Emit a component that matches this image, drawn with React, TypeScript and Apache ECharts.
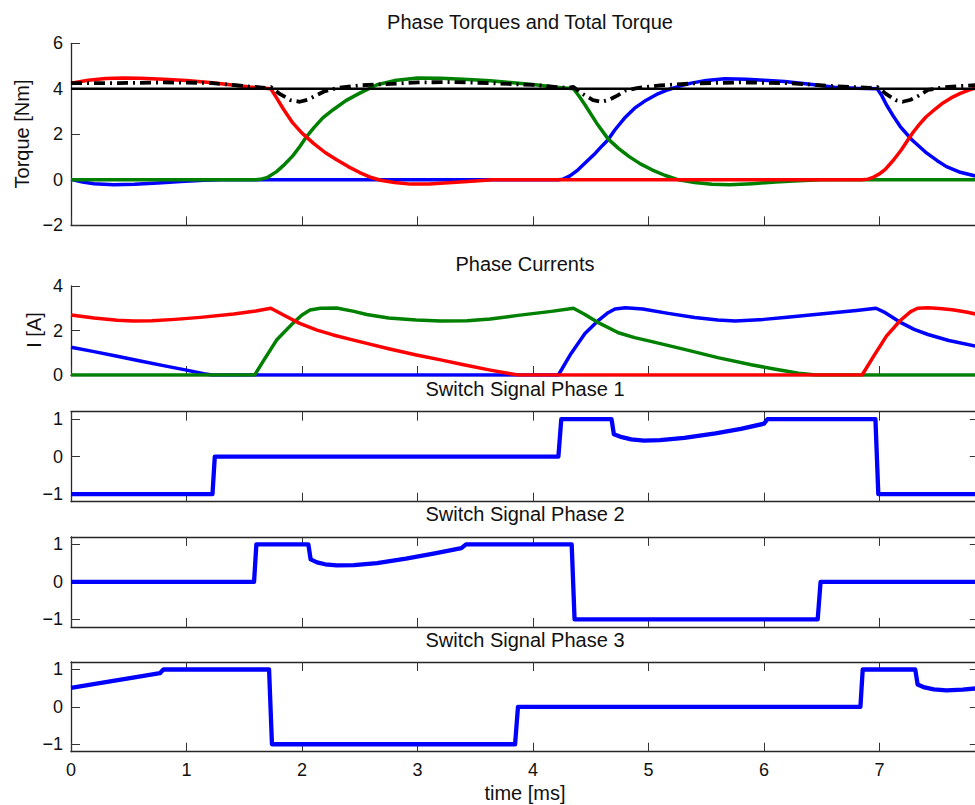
import React, { useEffect, useRef } from "react";
import * as echarts from "echarts";

// Time axis span (ms) — one electrical period
const T_MAX = 7.86;
const X_TICKS = [0, 1, 2, 3, 4, 5, 6, 7];

// ---- Phase torques [Nm] as [time ms, value] ----
const torquePhase1: [number, number][] = [
  [0, 4.25], [0.15, 4.38], [0.3, 4.45], [0.45, 4.47], [0.6, 4.46], [0.8, 4.42], [1.0, 4.36],
  [1.2, 4.28], [1.4, 4.17], [1.55, 4.08], [1.68, 4.02], [1.73, 4.0], [1.78, 3.6], [1.84, 3.1],
  [1.92, 2.5], [2.0, 2.05], [2.1, 1.6], [2.2, 1.2], [2.3, 0.88], [2.4, 0.58], [2.5, 0.32],
  [2.6, 0.1], [2.68, -0.02], [2.8, -0.12], [2.94, -0.19], [3.1, -0.18], [3.3, -0.12],
  [3.5, -0.05], [3.65, 0], [6.85, 0], [6.9, 0.03], [6.95, 0.12], [7.0, 0.26], [7.05, 0.46],
  [7.12, 0.86], [7.19, 1.32], [7.25, 1.78], [7.29, 2.08], [7.34, 2.4], [7.4, 2.75],
  [7.48, 3.1], [7.55, 3.38], [7.62, 3.6], [7.7, 3.8], [7.78, 3.95], [7.86, 4.08],
];
const torquePhase2: [number, number][] = [
  [0, 0], [1.6, 0], [1.64, 0.02], [1.7, 0.1], [1.78, 0.36], [1.85, 0.68], [1.92, 1.05],
  [1.98, 1.45], [2.04, 1.9], [2.1, 2.27], [2.18, 2.72], [2.27, 3.08], [2.38, 3.48],
  [2.5, 3.81], [2.65, 4.18], [2.8, 4.36], [3.0, 4.47], [3.2, 4.46], [3.4, 4.42], [3.63, 4.35],
  [3.85, 4.26], [4.02, 4.18], [4.2, 4.07], [4.35, 4.0], [4.4, 3.67], [4.45, 3.3], [4.55, 2.5],
  [4.65, 1.8], [4.74, 1.38], [4.83, 1.03], [4.93, 0.7], [5.03, 0.44], [5.14, 0.2], [5.26, 0.0],
  [5.4, -0.12], [5.55, -0.2], [5.7, -0.22], [5.9, -0.17], [6.1, -0.1], [6.3, -0.04],
  [6.5, 0], [7.86, 0],
];
const torquePhase3: [number, number][] = [
  [0, 0.02], [0.1, -0.1], [0.2, -0.17], [0.37, -0.22], [0.55, -0.2], [0.75, -0.14],
  [0.95, -0.07], [1.15, -0.02], [1.3, 0], [4.22, 0], [4.26, 0.03], [4.32, 0.17], [4.39, 0.44],
  [4.46, 0.78], [4.54, 1.17], [4.6, 1.5], [4.65, 1.76], [4.71, 2.2], [4.8, 2.75], [4.88, 3.15],
  [4.98, 3.5], [5.07, 3.75], [5.17, 3.96], [5.27, 4.12], [5.37, 4.25], [5.5, 4.37],
  [5.66, 4.44], [5.85, 4.42], [6.0, 4.38], [6.18, 4.32], [6.4, 4.2], [6.61, 4.07],
  [6.8, 4.02], [6.98, 4.0], [7.02, 3.7], [7.06, 3.3], [7.12, 2.8], [7.18, 2.34], [7.28, 1.76],
  [7.41, 1.17], [7.5, 0.84], [7.58, 0.58], [7.7, 0.33], [7.86, 0.13],
];
// Sum of the three phase torques
const torqueTotal: [number, number][] = [
  [0, 4.25], [0.4, 4.25], [0.8, 4.28], [1.2, 4.26], [1.5, 4.12], [1.68, 4.04], [1.73, 4.08],
  [1.8, 3.8], [1.9, 3.5], [1.98, 3.43], [2.05, 3.52], [2.12, 3.7], [2.2, 3.9], [2.3, 4.03],
  [2.5, 4.15], [2.7, 4.2], [3.0, 4.28], [3.3, 4.3], [3.63, 4.25], [4.0, 4.17], [4.3, 4.04],
  [4.35, 4.08], [4.42, 3.8], [4.52, 3.5], [4.59, 3.43], [4.66, 3.52], [4.73, 3.7],
  [4.8, 3.92], [4.9, 4.03], [5.1, 4.15], [5.4, 4.24], [5.8, 4.28], [6.2, 4.25], [6.6, 4.12],
  [6.92, 4.04], [6.98, 4.08], [7.05, 3.8], [7.14, 3.5], [7.2, 3.43], [7.27, 3.52],
  [7.34, 3.7], [7.42, 3.95], [7.55, 4.06], [7.7, 4.12], [7.86, 4.17],
];
// Reference torque
const torqueRef: [number, number][] = [[0, 4.0], [T_MAX, 4.0]];

// ---- Phase currents [A] ----
const currentPhase1: [number, number][] = [
  [0, 2.7], [0.2, 2.56], [0.4, 2.46], [0.54, 2.43], [0.7, 2.44], [0.9, 2.5], [1.12, 2.59],
  [1.41, 2.74], [1.6, 2.88], [1.73, 3.0], [1.84, 2.7], [1.98, 2.32], [2.13, 2.02], [2.27, 1.8],
  [2.42, 1.6], [2.56, 1.42], [2.75, 1.18], [2.99, 0.9], [3.2, 0.68], [3.4, 0.46], [3.63, 0.22],
  [3.78, 0.08], [3.87, 0], [6.85, 0], [6.95, 0.85], [7.06, 1.75], [7.18, 2.45], [7.27, 2.85],
  [7.33, 3.0], [7.42, 3.02], [7.52, 2.99], [7.63, 2.93], [7.75, 2.83], [7.86, 2.71],
];
const currentPhase2: [number, number][] = [
  [0, 0], [1.59, 0], [1.67, 0.67], [1.78, 1.57], [1.92, 2.32], [2.0, 2.7], [2.07, 2.92],
  [2.16, 3.0], [2.3, 3.01], [2.45, 2.86], [2.56, 2.72], [2.75, 2.56], [2.99, 2.47],
  [3.2, 2.43], [3.43, 2.44], [3.63, 2.52], [3.87, 2.68], [4.16, 2.86], [4.35, 3.0],
  [4.45, 2.72], [4.57, 2.34], [4.74, 1.9], [4.88, 1.68], [5.03, 1.5], [5.32, 1.14],
  [5.6, 0.78], [5.89, 0.46], [6.1, 0.26], [6.3, 0.08], [6.45, 0], [7.86, 0],
];
const currentPhase3: [number, number][] = [
  [0, 1.25], [0.2, 1.05], [0.4, 0.84], [0.6, 0.63], [0.8, 0.42], [1.0, 0.22], [1.15, 0.06],
  [1.22, 0], [4.22, 0], [4.33, 0.97], [4.45, 1.87], [4.57, 2.47], [4.65, 2.8], [4.71, 2.97],
  [4.8, 3.02], [4.95, 2.97], [5.17, 2.77], [5.4, 2.58], [5.6, 2.47], [5.75, 2.43], [6.0, 2.5],
  [6.2, 2.6], [6.4, 2.7], [6.6, 2.8], [6.8, 2.9], [6.97, 3.0], [7.05, 2.8], [7.19, 2.34],
  [7.3, 2.05], [7.42, 1.82], [7.6, 1.55], [7.86, 1.27],
];

// ---- Switch signals (-1 / 0 / 1 with PWM-averaged segments) ----
const switchPhase1: [number, number][] = [
  [0, -1], [1.225, -1], [1.245, 0], [4.22, 0], [4.245, 1], [4.68, 1], [4.7, 0.6], [4.77, 0.52],
  [4.85, 0.46], [4.96, 0.43], [5.1, 0.44], [5.31, 0.5], [5.58, 0.62], [5.8, 0.74],
  [6.0, 0.88], [6.03, 1], [6.965, 1], [6.99, -1], [T_MAX, -1],
];
const switchPhase2: [number, number][] = [
  [0, 0], [1.585, 0], [1.605, 1], [2.055, 1], [2.075, 0.6], [2.13, 0.52], [2.2, 0.47],
  [2.3, 0.44], [2.45, 0.45], [2.65, 0.5], [2.9, 0.62], [3.15, 0.76], [3.38, 0.9], [3.42, 1],
  [4.335, 1], [4.36, -1], [6.465, -1], [6.49, 0], [T_MAX, 0],
];
const switchPhase3: [number, number][] = [
  [0, 0.51], [0.3, 0.66], [0.55, 0.79], [0.77, 0.9], [0.8, 1], [1.715, 1], [1.74, -1],
  [3.845, -1], [3.87, 0], [6.835, 0], [6.855, 1], [7.31, 1], [7.33, 0.6], [7.39, 0.52],
  [7.47, 0.47], [7.58, 0.44], [7.72, 0.46], [T_MAX, 0.5],
];

const RED = "#ff0000";
const GREEN = "#008000";
const BLUE = "#0000ff";
const FONT = "'Liberation Sans', Arial, Helvetica, sans-serif";
const AXIS_COLOR = "#262626";
const TEXT_COLOR = "#111111";

const PLOT_LEFT = 71;
const PLOT_WIDTH = 907.8;

// Panel layout: top / height in px, y range, y ticks, boxed
const panels = [
  { top: 43.3, height: 182, min: -2, max: 6, ticks: [-2, 0, 2, 4, 6], box: false },
  { top: 286, height: 89, min: 0, max: 4, ticks: [0, 2, 4], box: false },
  { top: 411.7, height: 90, min: -1.2, max: 1.2, ticks: [-1, 0, 1], box: true },
  { top: 536.9, height: 90, min: -1.2, max: 1.2, ticks: [-1, 0, 1], box: true },
  { top: 662, height: 89.7, min: -1.2, max: 1.2, ticks: [-1, 0, 1], box: true },
];

const fmt = (v: number) => (v < 0 ? "\u2212" + Math.abs(v) : String(v));

function buildOption() {
  const grid: any[] = [];
  const xAxis: any[] = [];
  const yAxis: any[] = [];
  const xIdx: number[] = [];
  const yIdx: number[] = [];

  panels.forEach((p, i) => {
    grid.push({ left: PLOT_LEFT, width: PLOT_WIDTH, top: p.top, height: p.height, show: false });
    const last = i === panels.length - 1;
    const axisLine = { show: true, onZero: false, lineStyle: { color: AXIS_COLOR, width: 1.3 } };
    const tick = (vals: number[]) => ({
      show: true, inside: true, length: 9, customValues: vals,
      lineStyle: { color: "#333", width: 1 },
    });
    xIdx.push(xAxis.length);
    xAxis.push({
      type: "value", gridIndex: i, position: "bottom", min: 0, max: T_MAX,
      axisLine, axisTick: tick(X_TICKS), splitLine: { show: false },
      axisLabel: last
        ? { show: true, customValues: X_TICKS, margin: 9, fontSize: 18, fontFamily: FONT, color: TEXT_COLOR, formatter: fmt }
        : { show: false },
    });
    yIdx.push(yAxis.length);
    yAxis.push({
      type: "value", gridIndex: i, position: "left", min: p.min, max: p.max,
      axisLine, axisTick: tick(p.ticks), splitLine: { show: false },
      axisLabel: { show: true, customValues: p.ticks, margin: 8, fontSize: 18, fontFamily: FONT, color: TEXT_COLOR, formatter: fmt },
    });
    if (p.box) {
      xAxis.push({
        type: "value", gridIndex: i, position: "top", min: 0, max: T_MAX,
        axisLine, axisTick: tick(X_TICKS), axisLabel: { show: false }, splitLine: { show: false },
      });
      yAxis.push({
        type: "value", gridIndex: i, position: "right", min: p.min, max: p.max,
        axisLine, axisTick: tick(p.ticks), axisLabel: { show: false }, splitLine: { show: false },
      });
    }
  });

  const line = (panel: number, data: [number, number][], color: string, width: number, type: any = "solid") => ({
    type: "line", xAxisIndex: xIdx[panel], yAxisIndex: yIdx[panel], data,
    showSymbol: false, symbol: "none", silent: true,
    lineStyle: { color, width, type, cap: "butt", join: "round" },
  });

  const series = [
    line(0, torquePhase3, BLUE, 3.5),
    line(0, torquePhase2, GREEN, 3.5),
    line(0, torquePhase1, RED, 3.5),
    line(0, torqueRef, "#000", 2.5),
    line(0, torqueTotal, "#000", 3.8, [11, 5, 2, 5]),
    line(1, currentPhase3, BLUE, 3.5),
    line(1, currentPhase2, GREEN, 3.5),
    line(1, currentPhase1, RED, 3.5),
    line(2, switchPhase1, BLUE, 4.3),
    line(3, switchPhase2, BLUE, 4.3),
    line(4, switchPhase3, BLUE, 4.3),
  ];

  const text = (t: string, x: number, y: number, rotate = false) => ({
    type: "text", x, y, rotation: rotate ? Math.PI / 2 : 0, silent: true,
    style: { text: t, fontSize: 20, fontFamily: FONT, fill: TEXT_COLOR, align: "center", verticalAlign: "middle" },
  });

  const graphic = [
    text("Phase Torques and Total Torque", 530, 22),
    text("Phase Currents", 525, 264),
    text("Switch Signal Phase 1", 525, 389),
    text("Switch Signal Phase 2", 525, 514),
    text("Switch Signal Phase 3", 525, 639.5),
    text("time [ms]", 525, 793),
    text("Torque [Nm]", 21.5, 134, true),
    text("I [A]", 34, 330, true),
  ];

  return { animation: false, backgroundColor: "#ffffff", grid, xAxis, yAxis, series, graphic };
}

export default function App() {
  const ref = useRef<HTMLDivElement>(null);
  useEffect(() => {
    if (!ref.current) return;
    const chart = echarts.init(ref.current, undefined, { renderer: "svg" });
    chart.setOption(buildOption() as any);
    return () => chart.dispose();
  }, []);
  return (
    <div style={{ position: "fixed", left: 0, top: 0, width: 975, height: 805, overflow: "hidden", background: "#fff" }}>
      <div ref={ref} style={{ width: 990, height: 805 }} />
    </div>
  );
}
